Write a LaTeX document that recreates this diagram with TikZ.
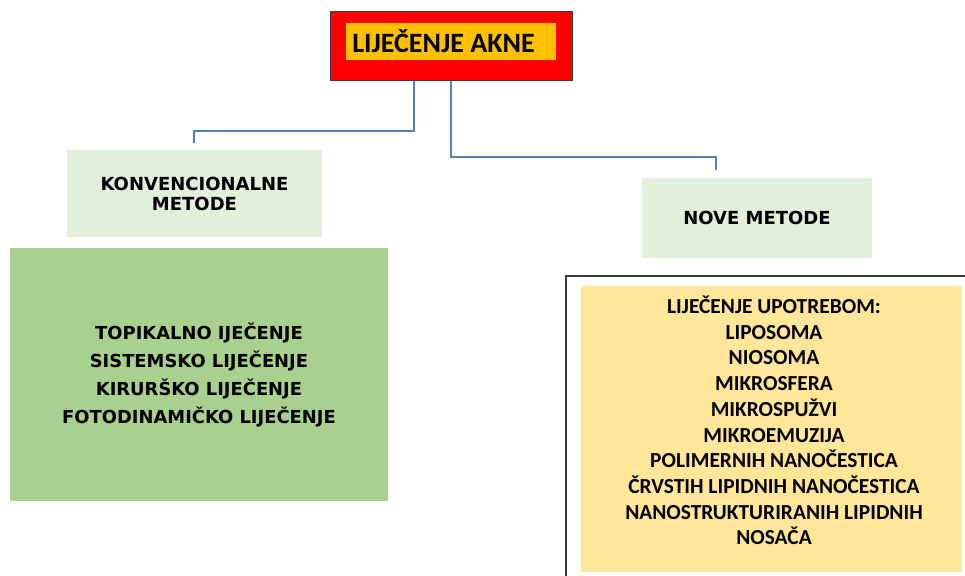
\documentclass[tikz,border=0pt]{standalone}
\usepackage{fontspec}
\newfontfamily\carl{Carlito}
\newfontfamily\dvs{DejaVu Sans}
\definecolor{redbox}{HTML}{FF0000}
\definecolor{orangebox}{HTML}{FFC000}
\definecolor{lightgreen}{HTML}{E2EFDA}
\definecolor{midgreen}{HTML}{A9D08E}
\definecolor{yellowbox}{HTML}{FFE699}
\definecolor{connblue}{HTML}{4F81BD}
\definecolor{framegray}{HTML}{3A3A3A}
\tikzset{
  conn/.style={draw=connblue, line width=1.6pt},
  box/.style={rectangle, inner sep=0pt, outer sep=0pt},
  catbox/.style={box, fill=lightgreen, align=center, font=\dvs\bfseries\fontsize{18}{20}\selectfont},
}
\begin{document}
\begin{tikzpicture}[x=1pt,y=-1pt]
\useasboundingbox (0,0) rectangle (965,575);
\clip (0,0) rectangle (965,575);
% top box
\node[box, fill=redbox, draw=framegray, line width=1pt, minimum width=242pt, minimum height=69pt] (top) at (451,46.5) {};
\node[box, fill=orangebox, minimum width=210pt, minimum height=37pt] (topin) at (451,41.5) {};
\node[font=\carl\bfseries\fontsize{28}{32}\selectfont, inner sep=0pt] (toptext) at (443.5,41.5) {LIJEČENJE AKNE};
% category boxes
\node[catbox, minimum width=255pt, minimum height=87pt] (konv) at (194.5,193.5) {KONVENCIONALNE\\METODE};
\node[catbox, minimum width=230pt, minimum height=80pt] (nove) at (757,217.5) {NOVE METODE};
% connectors
\coordinate (lend) at (194,143);
\coordinate (rend) at (716,170);
\draw[conn] (top.south -| 414,0) -- (414,131) -| (lend);
\draw[conn] (top.south -| 451,0) -- (451,157) -| (rend);
% left detail box
\node[box, fill=midgreen, minimum width=378pt, minimum height=253pt, align=center,
      font=\dvs\bfseries\fontsize{17.9}{28}\selectfont] (konvlist) at (199,374.5)
  {TOPIKALNO IJEČENJE\\SISTEMSKO LIJEČENJE\\KIRURŠKO LIJEČENJE\\FOTODINAMIČKO LIJEČENJE};
% right detail box
\node[box, draw=framegray, line width=1.2pt, minimum width=414pt, minimum height=320pt, anchor=north west] (noveframe) at (566,276) {};
\node[box, fill=yellowbox, minimum width=381pt, minimum height=286pt] (novelist) at (771.5,429) {};
\node[align=center, inner sep=0pt, font=\carl\bfseries\fontsize{21.4}{25.7}\selectfont] (novetext) at (774,420.5)
  {LIJEČENJE UPOTREBOM:\\LIPOSOMA\\NIOSOMA\\MIKROSFERA\\MIKROSPUŽVI\\MIKROEMUZIJA\\POLIMERNIH NANOČESTICA\\ČRVSTIH LIPIDNIH NANOČESTICA\\NANOSTRUKTURIRANIH LIPIDNIH\\NOSAČA};
\end{tikzpicture}
\end{document}
